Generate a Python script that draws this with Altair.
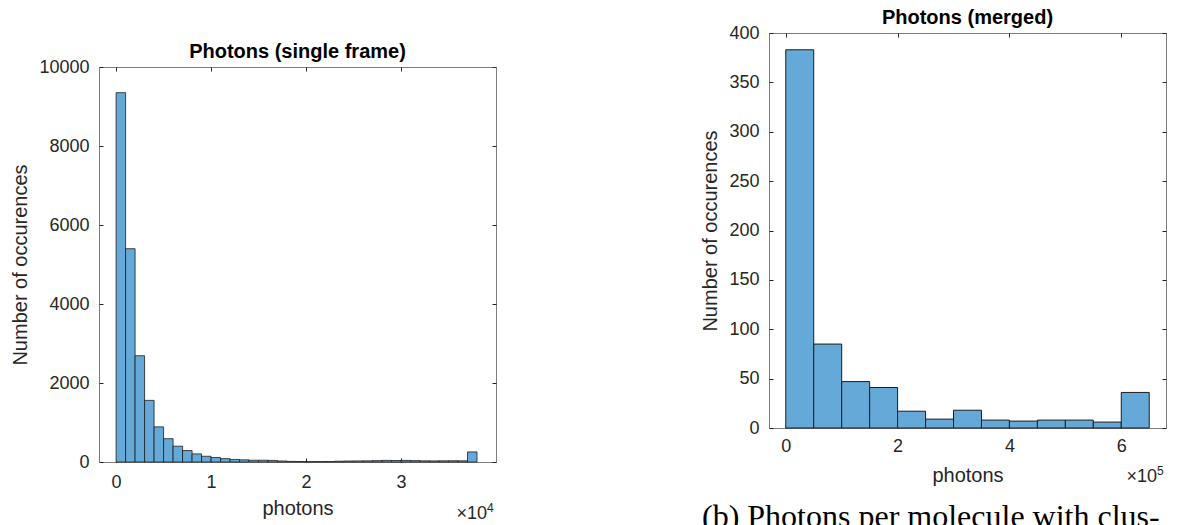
import altair as alt
import pandas as pd

# ---------------- data ----------------
single_counts = [9350, 5400, 2690, 1560, 890, 590, 400, 290, 205, 145,
                 115, 85, 65, 55, 45, 45, 40, 25, 15, 12,
                 10, 10, 12, 20, 25, 28, 30, 35, 40, 38,
                 40, 35, 30, 28, 30, 32, 30, 255]
single_bin_width = 1000

merged_counts = [383, 85, 47, 41, 17, 9, 18, 8, 7, 8, 8, 6, 36]
merged_bin_width = 50000

single_x_ticks = [0, 10000, 20000, 30000]
single_y_ticks = [0, 2000, 4000, 6000, 8000, 10000]
merged_x_ticks = [0, 200000, 400000, 600000]
merged_y_ticks = [0, 50, 100, 150, 200, 250, 300, 350, 400]

single_title = "Photons (single frame)"
merged_title = "Photons (merged)"
x_title = "photons"
y_title = "Number of occurences"
caption_b = "(b) Photons per molecule with clus-"

# ---------------- style ----------------
FILL = "#64A9D8"
EDGE = "#1d1d1d"
AX = "#262626"
FONT = "Liberation Sans"
W, H = 397, 395


def hist_panel(counts, bw, x_domain, y_domain, x_ticks, y_ticks, x_div,
               exp_digit, title, label_pad_x, title_pad_x, exp_dy, edge_w,
               extra=None):
    df = pd.DataFrame({"start": [i * bw for i in range(len(counts))],
                       "count": counts})
    df["end"] = df["start"] + bw
    df["base"] = 0
    xs = alt.Scale(domain=x_domain, nice=False, zero=False)
    ys = alt.Scale(domain=y_domain, nice=False)
    common = dict(tickSize=4, offset=-4, domain=False, grid=False,
                  tickColor=AX, tickWidth=1)
    bars = alt.Chart(df).mark_bar(fill=FILL, stroke=EDGE, strokeWidth=edge_w).encode(
        x=alt.X("start:Q", scale=xs,
                axis=alt.Axis(orient="bottom", values=x_ticks,
                              labelExpr=f"datum.value / {x_div}",
                              title=x_title, labelPadding=label_pad_x,
                              titlePadding=title_pad_x, **common)),
        x2="end:Q",
        y=alt.Y("count:Q", scale=ys,
                axis=alt.Axis(orient="left", values=y_ticks, format="d",
                              title=y_title, labelPadding=10,
                              titlePadding=8, **common)),
        y2="base:Q",
    )
    box = alt.Chart(df).mark_bar(opacity=0).encode(
        x=alt.X("start:Q", scale=xs,
                axis=alt.Axis(orient="top", values=x_ticks, labels=False,
                              title=None, **common)),
        x2="end:Q",
        y=alt.Y("count:Q", scale=ys,
                axis=alt.Axis(orient="right", values=y_ticks, labels=False,
                              title=None, **common)),
        y2="base:Q",
    )
    exp_df = pd.DataFrame({"base": ["\u00d710"], "pow": [exp_digit]})
    exp_base = alt.Chart(exp_df).mark_text(
        align="right", baseline="alphabetic", font=FONT, fontSize=18, color=AX
    ).encode(x=alt.value(W - 9), y=alt.value(H + exp_dy), text="base:N")
    exp_pow = alt.Chart(exp_df).mark_text(
        align="left", baseline="alphabetic", font=FONT, fontSize=12, color=AX
    ).encode(x=alt.value(W - 9), y=alt.value(H + exp_dy - 7), text="pow:N")
    layers = [bars, box, exp_base, exp_pow]
    if extra is not None:
        layers.append(extra)
    return alt.layer(*layers).resolve_axis(
        x="independent", y="independent"
    ).properties(
        width=W, height=H,
        title=alt.TitleParams(title, font=FONT, fontSize=20, fontWeight="bold",
                              color="black", offset=-4, anchor="middle"),
    )


left = hist_panel(single_counts, single_bin_width, [-1800, 40000], [0, 10000],
                  single_x_ticks, single_y_ticks, 10000, "4", single_title,
                  11.5, 7, 57, 0.8)

cap_df = pd.DataFrame({"t": [caption_b]})
caption = alt.Chart(cap_df).mark_text(
    align="left", baseline="alphabetic", font="Liberation Serif",
    fontSize=32, color="black"
).encode(x=alt.value(-67), y=alt.value(H + 99), text="t:N")

right = hist_panel(merged_counts, merged_bin_width, [-30000, 680000], [0, 400],
                   merged_x_ticks, merged_y_ticks, 100000, "5", merged_title,
                   9, 10, 54, 1.0, extra=caption)

spacer = alt.Chart(pd.DataFrame({"a": [0]})).mark_point(opacity=0).encode(
    x=alt.value(0), y=alt.value(0)
).properties(width=1, height=8, view=alt.ViewBackground(strokeOpacity=0))

chart = alt.hconcat(
    alt.vconcat(spacer, left, spacing=0),
    right,
    spacing=203,
).properties(
    padding={"left": 10, "top": 7, "right": 0, "bottom": 0}
).configure_view(
    stroke="#7d7d7d", strokeWidth=1
).configure_axis(
    labelFont=FONT, titleFont=FONT, labelFontSize=18, titleFontSize=20,
    labelColor=AX, titleColor=AX, titleFontWeight="normal"
)

chart.save("out.html", embed_options={"renderer": "svg", "actions": False})
